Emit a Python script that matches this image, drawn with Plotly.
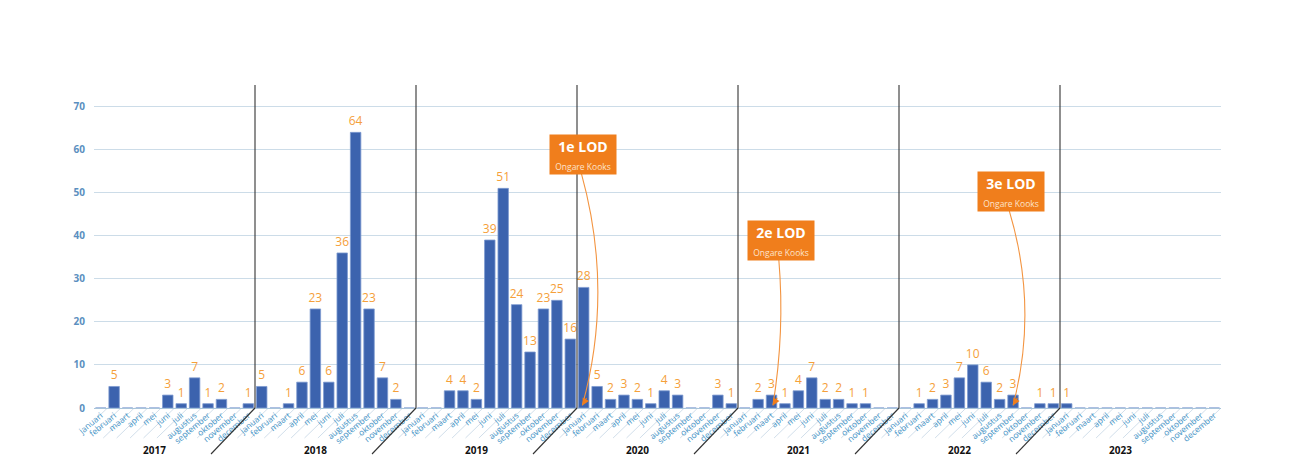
import plotly.graph_objects as go

months = ["januari", "februari", "maart", "april", "mei", "juni", "juli",
          "augustus", "september", "oktober", "november", "december"]
years = ["2017", "2018", "2019", "2020", "2021", "2022", "2023"]

v2017 = [0, 5, 0, 0, 0, 3, 1, 7, 1, 2, 0, 1]
v2018 = [5, 0, 1, 6, 23, 6, 36, 64, 23, 7, 2, 0]
v2019 = [0, 0, 4, 4, 2, 39, 51, 24, 13, 23, 25, 16]
v2020 = [28, 5, 2, 3, 2, 1, 4, 3, 0, 0, 3, 1]
v2021 = [0, 2, 3, 1, 4, 7, 2, 2, 1, 1, 0, 0]
v2022 = [0, 1, 2, 3, 7, 10, 6, 2, 3, 0, 1, 1]
v2023 = [1, 0, 0, 0, 0, 0, 0, 0, 0, 0, 0, 0]

lods = ["1e LOD", "2e LOD", "3e LOD"]
lod_sub = ["Ongare Kooks", "Ongare Kooks", "Ongare Kooks"]
lod_target = [("2020", "januari"), ("2021", "maart"), ("2022", "september")]

values = v2017 + v2018 + v2019 + v2020 + v2021 + v2022 + v2023
labels = months * len(years)
xs = list(range(len(values)))
texts = [str(v) if v > 0 else "" for v in values]

ORANGE = "#F07E1C"
BAR = "#3C63AE"

fig = go.Figure()
fig.add_trace(go.Bar(
    x=xs, y=values, text=texts, textposition="outside", constraintext="none",
    textfont=dict(color="#F5A03A", size=12),
    marker=dict(color=BAR, line=dict(color="#7D9AD0", width=0.8)),
    width=0.78, cliponaxis=False, showlegend=False,
))

W, H = 1299, 472
# page has an 8px body offset; plot area lands at x 94..1221, y 85..408
ml, mr, mt, mb = 86, 86, 77, 72
pw = W - ml - mr
ph = H - mt - mb
n = len(values)
pxu = pw / n  # px per x unit
pyu = ph / 75.0

shapes = []
# thin slanted separators under the axis
for i in range(n + 1):
    b = i - 0.5
    shapes.append(dict(type="line", xref="x", yref="paper",
                       x0=b, y0=0, x1=b - 31 / pxu, y1=-30 / ph,
                       line=dict(color="#C5D6E4", width=0.8), layer="below"))
# year dividers
for k in range(1, len(years)):
    b = 12 * k - 0.5
    shapes.append(dict(type="line", xref="x", yref="paper",
                       x0=b, y0=0, x1=b, y1=1,
                       line=dict(color="#333333", width=1.1)))
    shapes.append(dict(type="line", xref="x", yref="paper",
                       x0=b, y0=0, x1=b - 44 / pxu, y1=-46 / ph,
                       line=dict(color="#333333", width=1.1)))

annotations = []
for k, yv in enumerate(years):
    annotations.append(dict(x=12 * k + 4.0, y=-42 / ph, xref="x", yref="paper",
                            yanchor="middle",
                            text="<b>" + yv + "</b>", showarrow=False,
                            font=dict(size=10, color="#111111")))

# LOD boxes (positions in data units)
box_pos = [(35.97, 58.95), (50.69, 38.95), (67.87, 50.2)]
curve_ctrl = [(38.25, 27.2), (51.0, 17.7), (69.9, 23.1)]
end_off = [-0.1, 0.1, 0.0]
for j, name in enumerate(lods):
    yr, mo = lod_target[j]
    tx = years.index(yr) * 12 + months.index(mo)
    bx, by = box_pos[j]
    annotations.append(dict(
        x=bx, y=by, xref="x", yref="y", showarrow=False,
        text="<b>" + name + "</b><br><span style='font-size:8.5px;color:#FDE3CC'>"
             + lod_sub[j] + "</span>",
        font=dict(color="white", size=14), bgcolor=ORANGE, borderpad=2,
        width=62, align="center"))
    sx, sy = bx - 0.15, by - 19 / pyu
    ex, ey = tx + end_off[j], 0.6
    cx, cy = curve_ctrl[j]
    shapes.append(dict(type="path", xref="x", yref="y",
                       path=f"M {sx},{sy} Q {cx},{cy} {ex},{ey}",
                       line=dict(color="#F39440", width=1.1)))
    annotations.append(dict(x=ex, y=ey, xref="x", yref="y", ax=5, ay=-9,
                            text="", showarrow=True, arrowhead=2, arrowsize=1.3,
                            arrowwidth=1.1, arrowcolor=ORANGE))

fig.update_layout(
    width=W, height=H,
    margin=dict(l=ml, r=mr, t=mt, b=mb),
    plot_bgcolor="white", paper_bgcolor="white",
    font=dict(family="Open Sans, sans-serif"),
    shapes=shapes, annotations=annotations,
    bargap=0.2,
    xaxis=dict(range=[-0.5, n - 0.5], tickvals=xs, ticktext=labels,
               tickangle=-40, tickfont=dict(size=8.5, color="#3F93C6"),
               showgrid=False, showline=False, zeroline=False, ticks="",
               automargin=False),
    yaxis=dict(range=[0, 75], tickvals=list(range(0, 71, 10)),
               tickfont=dict(size=10, color="#5B8FC0", weight="bold"),
               gridcolor="#CCDCE8", gridwidth=1, zeroline=True,
               zerolinecolor="#A8C4DA", zerolinewidth=1.2, showline=False,
               ticklabelstandoff=8, automargin=False),
)

fig.write_html("out.html")
